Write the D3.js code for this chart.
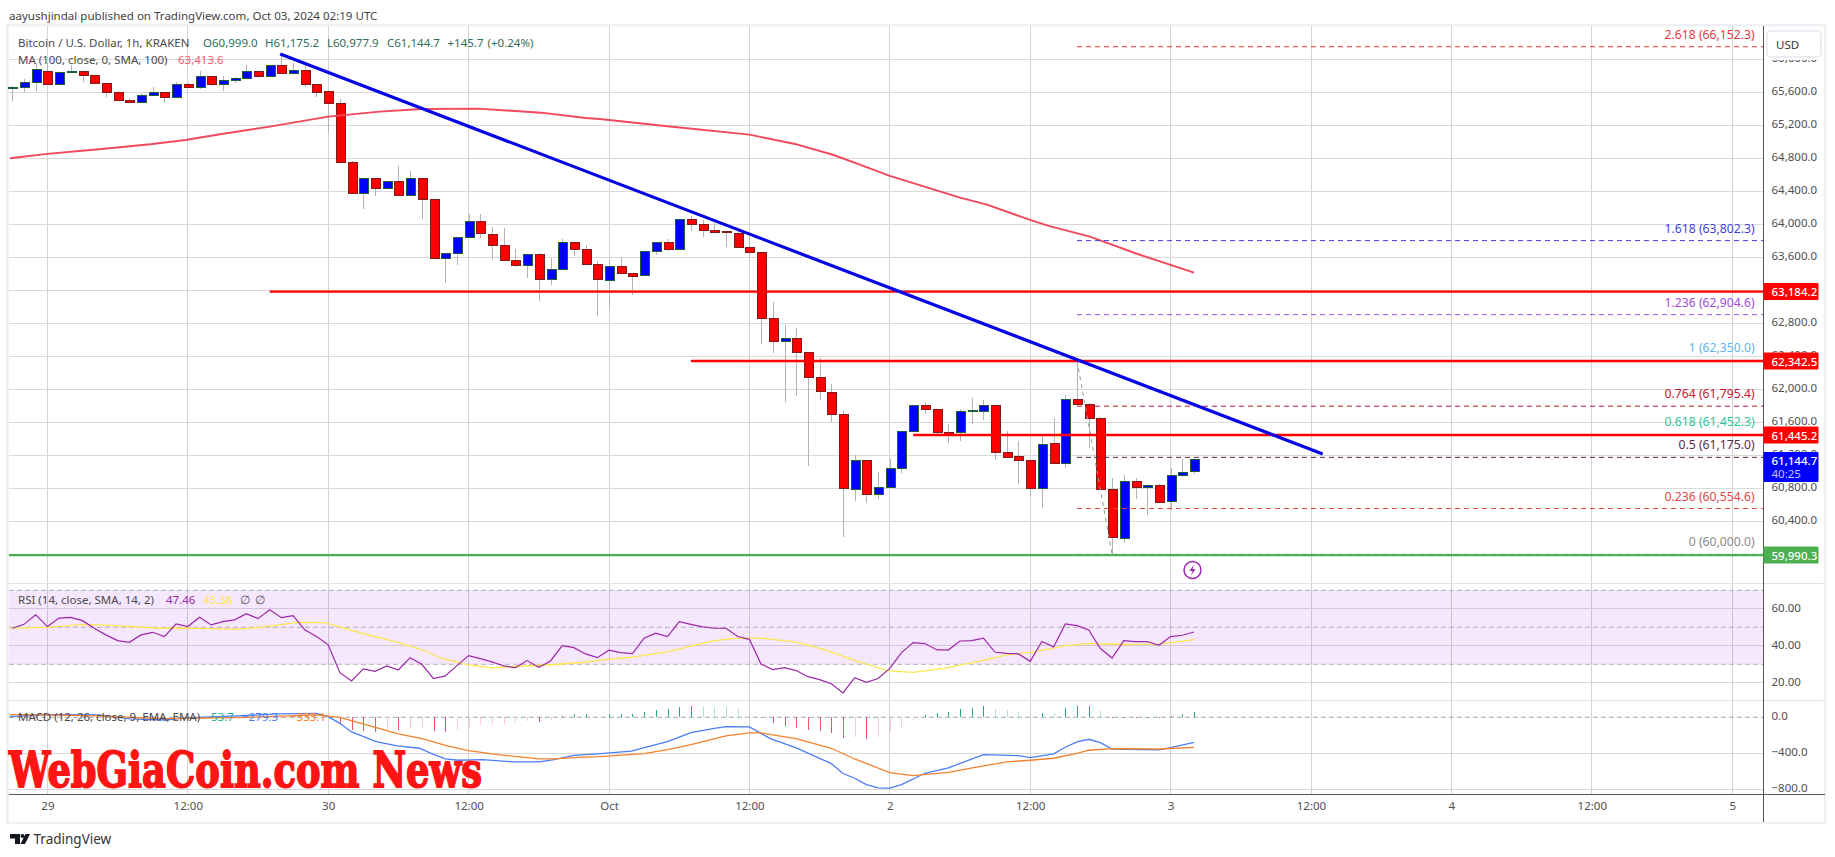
<!DOCTYPE html>
<html><head><meta charset="utf-8">
<script src="https://cdn.jsdelivr.net/npm/d3@7/dist/d3.min.js"></script>
<style>html,body{margin:0;padding:0;background:#fff}svg{display:block}text{font-family:"Noto Sans",sans-serif}</style>
</head><body><svg id="c" width="1835" height="857"></svg>
<script>
const firstHour = -3;
const opens = [65648,65660,65721,65854,65697,65842,65854,65806,65709,65600,
65503,65479,65564,65596,65539,65697,65660,65790,65697,65745,
65770,65850,65794,65927,65830,65867,65697,65612,65467,64751,
64376,64558,64436,64521,64352,64558,64303,63588,63649,63843,
64036,63879,63746,63564,63499,63636,63333,63455,63778,63697,
63515,63317,63491,63406,63378,63669,63782,63693,64061,64000,
63927,63907,63891,63721,63661,62861,62578,62618,62445,62146,
61964,61697,60788,61140,60724,60808,61043,61491,61806,61758,
61479,61479,61730,61730,61806,61237,61180,61140,60800,61346,
61099,61879,61818,61649,60788,60194,60881,60808,60837,60639,
60954,60999];
const highs = [65677,65757,65951,65951,65850,65927,65862,65810,65709,65620,
65527,65588,65660,65604,65721,65709,65858,65798,65794,65782,
65927,65858,65931,66073,65951,65927,65701,65612,65515,64772,
64558,64558,64529,64707,64646,64558,64303,63649,63843,64125,
64125,63964,63952,63701,63640,63649,63592,63818,63786,63750,
63552,63568,63600,63414,63681,63786,63822,64061,64101,64053,
64012,63907,63960,63843,63661,63059,62780,62744,62445,62376,
62065,61738,61200,61140,60998,61152,61499,61806,61847,61758,
61580,61758,61895,61871,61806,61495,61374,61140,61443,61649,
61928,62344,61831,61661,60922,60962,60922,60849,60849,61043,
61152,61175.2];
const lows = [65499,65608,65620,65689,65689,65830,65729,65701,65547,65499,
65475,65475,65556,65475,65531,65652,65644,65677,65620,65709,
65762,65770,65786,65822,65822,65660,65547,65111,64743,64368,
64190,64347,64428,64347,64347,64069,63584,63293,63507,63834,
63834,63568,63560,63483,63350,63071,63265,63447,63616,63507,
62893,62990,63398,63148,63374,63632,63681,63689,63919,63851,
63895,63729,63713,63588,62554,62445,61851,61923,61075,61871,
61604,60215,60651,60627,60671,60800,60990,61483,61701,61455,
61354,61374,61584,61628,61144,61168,60853,60707,60566,61095,
61047,61814,61285,60780,60005,60142,60671,60477,60623,60538,
60942,60977.9];
const closes = [65660,65721,65879,65697,65842,65854,65806,65709,65600,65503,
65479,65564,65596,65539,65697,65660,65790,65697,65745,65770,
65850,65794,65927,65830,65867,65697,65600,65467,64751,64376,
64558,64436,64521,64352,64558,64303,63588,63649,63843,64036,
63887,63741,63564,63499,63636,63333,63455,63778,63697,63515,
63329,63491,63402,63366,63673,63782,63693,64061,64000,63923,
63899,63899,63717,63657,62861,62578,62618,62445,62142,61972,
61697,60800,61140,60724,60812,61043,61491,61806,61754,61479,
61455,61734,61738,61806,61237,61172,61136,60800,61334,61099,
61879,61818,61645,60788,60202,60881,60808,60837,60627,60958,
60994,61144.7];

const maHours = [-3.2,0,4.4,8.8,11.8,14.9,19,24,28.4,32,36.8,42.2,46,47.2,52.8,60,63.9,67.2,69.5,72,78,80.3,84,85.5,89.1,93,98];
const maValues = [64800,64853,64909,64970,65022,65095,65184,65305,65366,65398,65402,65353,65289,65277,65192,65087,64974,64840,64719,64586,64323,64238,64053,63984,63851,63649,63413.6];

const trendHours = [19.9,109], trendValues = [66064,61216];
const levelStart = [19,55,74], levelPrice = [63184.2,62342.5,61445.2], levelText = ["63,184.2","62,342.5","61,445.2"];
const supportPrice = 59990.3;

const fibRatios = ["2.618","1.618","1.236","1","0.764","0.618","0.5","0.236","0"];
const fibPrices = [66152.3,63802.3,62904.6,62350,61795.4,61452.3,61175,60554.6,60000];
const fibNames = ["66,152.3","63,802.3","62,904.6","62,350.0","61,795.4","61,452.3","61,175.0","60,554.6","60,000.0"];
const fibColors = ["#e5393f","#3f3fd8","#a44be0","#64b5e6","#c2182b","#2cc79a","#5a2a4a","#e04848","#8a8a8a"];
const fibStartHour = 88, fibConnectHours=[88,91], fibConnectPrices=[62350,60000];

const rsiValues = [49.5,51.6,56.8,50.4,55,55.4,53.6,49.5,45.9,42.8,41.9,45.9,47.3,45,51.8,50.4,55.4,51.3,53.1,54,57.4,54.7,59.5,55.2,56.3,48.6,45,40.5,25.5,21,27.5,26.2,29.1,26.9,33.6,30,22.3,23.7,29.3,34.7,33.1,31.3,29.1,28.2,32,28.4,31.8,40.1,39,35.6,33.6,37.6,36.3,35.8,44.1,46.8,45,53.1,51.6,50.2,49.5,49.5,45,43.5,30,27.1,28.2,26.6,23.3,21.7,19.5,14.5,22.8,20.3,22.3,27.8,36.3,41.7,41.2,37.9,37.7,42.6,42.8,44.1,36.5,35.9,35.6,31.6,42.3,39.4,51.8,50.9,48.6,38.5,33.4,42.8,42.3,42.3,40.3,45,45.7,47.46];
const rsiMaHours = [-3.2,0,3.2,5.8,9.5,12.2,15.9,17.9,21.3,23.7,26.4,29.7,31.8,33.8,35.8,37.9,39.9,43.3,46,47.2,49.9,53,57,59,61,63.8,66.5,68.9,71.9,74,76.6,79.7,82,84,87,89,92,95,98];
const rsiMaValues = [49.5,50,51.6,50.9,49.5,49.5,48.9,49.7,52.7,52.5,47.7,42.3,38.4,33,30,28.1,28.8,29.9,31.1,32.3,33.8,36.8,42.8,44.1,44.1,42.3,37.8,32.3,26.5,25.6,27.8,31.7,35.1,36.4,40,41.3,40.7,40.9,43.38];

const macdHours = [-3.2,0,4.4,7.1,10.1,11.8,16.2,19.6,23,24,25,26,28.1,29.9,31.8,32.8,34,35.1,37.2,39.9,42,43.2,45,47,49.9,52,53,55,57,58,60,61.8,64,67,68,69,70,71,72,73,75,77,80,83,84,86,87,88,89,90,91,95,96,98];
const macdValues = [7,30,26,-18,-30,-7,15,37,44,7,-67,-163,-270,-318,-344,-400,-463,-477,-470,-496,-496,-474,-422,-407,-377,-303,-270,-170,-122,-104,-107,-237,-340,-514,-625,-677,-747,-784,-788,-747,-622,-562,-414,-425,-448,-407,-333,-274,-244,-281,-352,-363,-337,-279.3];
const signalHours = [-3.2,0,4.4,7.1,10.1,16.2,23,25,28.1,30,32.1,34.1,36,38.5,42,43.3,45,47.2,51,53,55,58,60,61,64,67,69,72,74,77,80,82,84,86,88,89,91,95,98];
const signalValues = [30,26,15,0,-15,-4,26,0,-115,-185,-240,-315,-370,-414,-463,-463,-448,-437,-403,-359,-303,-207,-174,-174,-237,-344,-463,-614,-648,-611,-540,-496,-477,-455,-400,-366,-348,-352,-333.1];
const histFirstHour = 25;
const histValues = [-59,-141,-152,-163,-141,-141,-122,-115,-148,-163,-141,-104,-85,-74,-72,-67,-41,-52,-30,11,33,34,7,33,35,37,56,78,93,115,126,120,115,110,93,7,-7,-63,-92,-118,-137,-152,-170,-226,-220,-237,-215,-159,-107,-33,26,48,59,89,104,126,93,81,59,7,48,44,104,126,127,70,-4,-4,-4,-4,-4,15,37,53.7];

const priceTicks = [66000,65600,65200,64800,64400,64000,63600,63200,62800,62400,62000,61600,61200,60800,60400,60000];
const rsiTicks = [60,40,20], macdTicks = [0,-400,-800];
const timeTickHours = [0,12,24,36,48,60,72,84,96,108,120,132,144];
const timeTickLabels = ["29","12:00","30","12:00","Oct","12:00","2","12:00","3","12:00","4","12:00","5"];

const L=9, R=1763.5, TOP=26, MAINB=583.5, RSIB=700.5, TIMEY=794.5, FRAMEB=821.5, FRAMER=1825;
const svg=d3.select("#c");
const x=d3.scaleLinear().domain([0,144]).range([47.4,1732.2]);
const y=d3.scaleLinear().domain([65600,60000]).range([92.3,554.3]);
const yR=d3.scaleLinear().domain([50,20]).range([627.3,682.8]);
const yM=d3.scaleLinear().domain([0,-800]).range([717.3,789.3]);
const fmt1=d3.format(",.1f"), fmt2=d3.format(".2f");
const minus=s=>s.replace("-","\u2212");
const AX="#4f4f4f";

function T(g,tx,ty,s,col,opt={}){return g.append("text").attr("x",tx).attr("y",ty).attr("fill",col)
 .attr("font-size",opt.size||11.5).attr("font-weight",opt.w||400).attr("text-anchor",opt.a||"start")
 .attr("dominant-baseline","central").text(s);}

// frame
svg.append("rect").attr("x",L-1.5).attr("y",TOP-1).attr("width",FRAMER-L+1.5).attr("height",FRAMEB-TOP+2.5)
 .attr("fill","#fff").attr("stroke","#eef0f5").attr("stroke-width",2.5);

// grid
const grid=svg.append("g").attr("shape-rendering","crispEdges");
grid.selectAll("line.v").data(timeTickHours).join("line").attr("x1",d=>x(d)).attr("x2",d=>x(d)).attr("y1",TOP).attr("y2",TIMEY).attr("stroke","#d3d3d3");
function hgrid(vals,sc){grid.selectAll(null).data(vals).join("line").attr("x1",L).attr("x2",R).attr("y1",d=>sc(d)).attr("y2",d=>sc(d)).attr("stroke","#d9d9d9");}
hgrid(priceTicks,y); hgrid(rsiTicks,yR); hgrid(macdTicks.slice(1),yM);
[MAINB,RSIB].forEach(v=>grid.append("line").attr("x1",L).attr("x2",FRAMER).attr("y1",v).attr("y2",v).attr("stroke","#e2e4ea"));

// RSI band
svg.append("rect").attr("x",L).attr("width",R-L).attr("y",yR(70)).attr("height",yR(30)-yR(70)).attr("fill","#a020f0").attr("fill-opacity",.11);
[70,50,30].forEach(v=>svg.append("line").attr("x1",L).attr("x2",R).attr("y1",yR(v)).attr("y2",yR(v)).attr("stroke","#b5aeb8").attr("stroke-dasharray","5 3"));
svg.append("line").attr("x1",L).attr("x2",R).attr("y1",yM(0)).attr("y2",yM(0)).attr("stroke","#a8a8a8").attr("stroke-dasharray","5 3");

// axes
function styleAxis(g){g.select(".domain").remove();g.selectAll(".tick line").remove();g.selectAll("text").attr("fill",AX).attr("font-size",11.5).attr("font-family",'"Noto Sans",sans-serif');}
const axShift=`translate(${R+5},-1.2)`;
svg.append("g").attr("transform",axShift).call(d3.axisRight(y).tickValues(priceTicks).tickSize(0).tickPadding(3).tickFormat(fmt1)).call(styleAxis);
svg.append("g").attr("transform",axShift).call(d3.axisRight(yR).tickValues(rsiTicks).tickSize(0).tickPadding(3).tickFormat(fmt2)).call(styleAxis);
svg.append("g").attr("transform",axShift).call(d3.axisRight(yM).tickValues(macdTicks).tickSize(0).tickPadding(3).tickFormat(d=>minus(d3.format(".1f")(d)))).call(styleAxis);
svg.append("g").attr("transform",`translate(0,${TIMEY})`).call(d3.axisBottom(x).tickValues(timeTickHours).tickSize(0).tickPadding(7).tickFormat((d,i)=>timeTickLabels[i])).call(styleAxis);

// candles
const candles=opens.map((o,i)=>({h:firstHour+i,o,hi:highs[i],lo:lows[i],c:closes[i]}));
const cg=svg.append("g");
cg.selectAll("line").data(candles).join("line").attr("x1",d=>Math.round(x(d.h))+.5).attr("x2",d=>Math.round(x(d.h))+.5)
 .attr("y1",d=>y(d.hi)).attr("y2",d=>y(d.lo)).attr("stroke","#b4b4b4").attr("shape-rendering","crispEdges");
cg.selectAll("rect").data(candles).join("rect").attr("x",d=>Math.round(x(d.h))-4).attr("width",9)
 .attr("y",d=>y(Math.max(d.o,d.c))).attr("height",d=>Math.max(.5,Math.abs(y(d.o)-y(d.c))))
 .attr("fill",d=>d.c>=d.o?"#0000ff":"#ff0000").attr("stroke",d=>d.c>=d.o?"#1d5f3a":"#7f1d1d").attr("stroke-width",1).attr("shape-rendering","crispEdges");

// MA
const lineOf=(xs,sc)=>d3.line().x((d,i)=>x(xs[i])).y(d=>sc(d));
svg.append("path").attr("d",lineOf(maHours,y)(maValues)).attr("fill","none").attr("stroke","#f2485e").attr("stroke-width",1.9);

// fib
const fg=svg.append("g");
fg.selectAll("line").data(fibPrices).join("line").attr("x1",x(fibStartHour)).attr("x2",R).attr("y1",d=>y(d)).attr("y2",d=>y(d))
 .attr("stroke",(d,i)=>fibColors[i]).attr("stroke-dasharray","5 4");
svg.append("path").attr("d",lineOf(fibConnectHours,y)(fibConnectPrices)).attr("fill","none").attr("stroke","#9a9a9a").attr("stroke-dasharray","4 4");

// levels
svg.selectAll("line.lv").data(levelPrice).join("line").attr("x1",(d,i)=>x(levelStart[i])).attr("x2",R).attr("y1",d=>y(d)).attr("y2",d=>y(d)).attr("stroke","#ff0000").attr("stroke-width",2.4);
svg.append("line").attr("x1",L).attr("x2",R).attr("y1",y(supportPrice)).attr("y2",y(supportPrice)).attr("stroke","#4caf50").attr("stroke-width",2.4);
// trend
svg.append("path").attr("d",lineOf(trendHours,y)(trendValues)).attr("fill","none").attr("stroke","#0505e6").attr("stroke-width",3.2);

// fib labels
fibPrices.forEach((p,i)=>T(svg,1754.6,y(p)-12.5,`${fibRatios[i]} (${fibNames[i]})`,fibColors[i],{a:"end",size:12.2}));

// RSI
svg.append("path").attr("d",lineOf(rsiMaHours,yR)(rsiMaValues)).attr("fill","none").attr("stroke","#fde74c").attr("stroke-width",1.3);
svg.append("path").attr("d",d3.line().x((d,i)=>x(firstHour+i)).y(d=>yR(d))(rsiValues)).attr("fill","none").attr("stroke","#9c27a8").attr("stroke-width",1.2);

// MACD
svg.selectAll("line.h").data(histValues).join("line").attr("x1",(d,i)=>Math.round(x(histFirstHour+i))+.5).attr("x2",(d,i)=>Math.round(x(histFirstHour+i))+.5)
 .attr("y1",yM(0)).attr("y2",d=>yM(d)).attr("shape-rendering","crispEdges")
 .attr("stroke",(d,i)=>{const prev=i?histValues[i-1]:0;return d>=0?(d>=prev?"#22ab94":"#acdfd5"):(d<=prev?"#ef5360":"#fccbcd");});
svg.append("path").attr("d",lineOf(macdHours,yM)(macdValues)).attr("fill","none").attr("stroke","#4a7df5").attr("stroke-width",1.3);
svg.append("path").attr("d",lineOf(signalHours,yM)(signalValues)).attr("fill","none").attr("stroke","#f5812c").attr("stroke-width",1.3);

// axis lines
const ax=svg.append("g").attr("shape-rendering","crispEdges");
ax.append("line").attr("x1",R).attr("x2",R).attr("y1",TOP).attr("y2",FRAMEB).attr("stroke","#555");
ax.append("line").attr("x1",L).attr("x2",FRAMER).attr("y1",TIMEY).attr("y2",TIMEY).attr("stroke","#555");

// USD box
svg.append("rect").attr("x",R+1).attr("y",TOP+1).attr("width",FRAMER-R-2).attr("height",33).attr("fill","#fff");
svg.append("rect").attr("x",1767).attr("y",31).attr("width",54).attr("height",26).attr("rx",4).attr("fill","#fff").attr("stroke","#e6e8ee").attr("stroke-width",1.5);
T(svg,1776,44,"USD","#333");

// price labels
function tag(p,s,col){const cy=y(p);svg.append("rect").attr("x",R).attr("y",cy-8.5).attr("width",55).attr("height",17).attr("fill",col).attr("rx",1);
 T(svg,R+8,cy,s,"#fff",{w:500,size:11.5});}
levelPrice.forEach((p,i)=>tag(p,levelText[i],"#ff0000"));
tag(supportPrice,"59,990.3","#4caf50");
svg.append("rect").attr("x",R).attr("y",452).attr("width",55).attr("height",30).attr("fill","#0000ff").attr("rx",1);
T(svg,R+8,460,fmt1(closes[closes.length-1]),"#fff",{w:500});
T(svg,R+8,473,"40:25","#c4c4ff");

// alert icon
const ic=svg.append("g").attr("transform","translate(1192.5,570)");
ic.append("circle").attr("r",8.5).attr("fill","#fff").attr("stroke","#9c27b0").attr("stroke-width",1.5);
ic.append("path").attr("d","M1.5,-5.5 L-3,1 L0,1 L-1.5,5.5 L3,-1 L0,-1 Z").attr("fill","#9c27b0");

// titles
T(svg,9,15,"aayushjindal published on TradingView.com, Oct 03, 2024 02:19 UTC","#444",{size:11.55});
const lg="#2f6d58";
T(svg,18,42,"Bitcoin / U.S. Dollar, 1h, KRAKEN","#4a4a4a");
[[203,"O60,999.0"],[265,"H61,175.2"],[327,"L60,977.9"],[387,"C61,144.7"],[447.5,"+145.7"],[487.6,"(+0.24%)"]].forEach(d=>T(svg,d[0],42,d[1],lg));
T(svg,18,59,"MA (100, close, 0, SMA, 100)","#4a4a4a");
T(svg,178,59,"63,413.6","#f55a6a");
T(svg,18,599,"RSI (14, close, SMA, 14, 2)","#4a4a4a");
T(svg,166,599,"47.46","#9c27a8");T(svg,203,599,"43.38","#fde74c");T(svg,240,599,"\u2205","#555");T(svg,255,599,"\u2205","#555");
T(svg,18,716,"MACD (12, 26, close, 9, EMA, EMA)","#4a4a4a");
T(svg,211,716,"53.7","#22ab94");T(svg,242,716,"\u2212279.3","#4a7df5");T(svg,290,716,"\u2212333.1","#f5812c");

// watermark
svg.append("text").attr("x",9).attr("y",787).attr("font-size",48).attr("font-weight",900).attr("fill","#ff1414")
 .attr("stroke","#ff1414").attr("stroke-width",1.8)
 .style("font-family",'"DejaVu Serif",serif').attr("textLength",473).attr("lengthAdjust","spacingAndGlyphs").text("WebGiaCoin.com News");

// logo
const lo=svg.append("g").attr("fill","#131722");
lo.append("path").attr("d","M10,834 H20 V844 H15 V838.5 H10 Z");
lo.append("circle").attr("cx",22.5).attr("cy",836).attr("r",2);
lo.append("path").attr("d","M25.5,834 H30 L25,844 H20.5 Z");
T(svg,33.5,839,"TradingView","#333",{size:13.5});
</script></body></html>
